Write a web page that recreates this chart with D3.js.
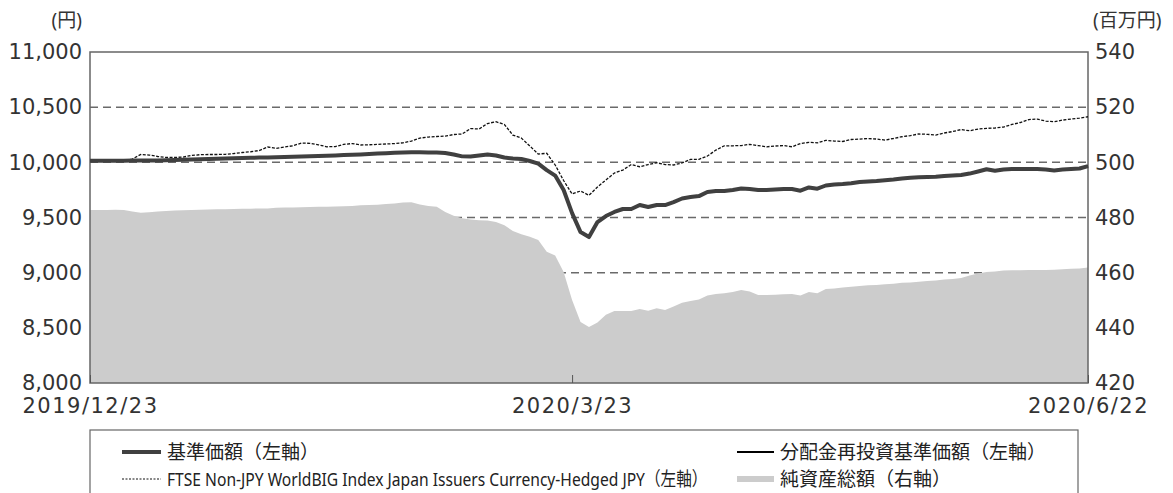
<!DOCTYPE html>
<html>
<head>
<meta charset="utf-8">
<script src="https://cdn.jsdelivr.net/npm/d3@7"></script>
<style>
  body { margin: 0; background: #fff; }
  svg { display: block; font-family: "Noto Sans", "Noto Sans CJK JP", sans-serif; }
  .num { font-family: "DejaVu Sans", "Noto Sans", sans-serif; }
</style>
</head>
<body>
<svg width="1173" height="493"></svg>
<script>
// 営業日（横軸のカテゴリ）
const dates = [
  "2019/12/23","2019/12/24","2019/12/25","2019/12/26","2019/12/27","2019/12/30",
  "2020/1/6","2020/1/7","2020/1/8","2020/1/9","2020/1/10","2020/1/14","2020/1/15","2020/1/16","2020/1/17",
  "2020/1/20","2020/1/21","2020/1/22","2020/1/23","2020/1/24","2020/1/27","2020/1/28","2020/1/29","2020/1/30","2020/1/31",
  "2020/2/3","2020/2/4","2020/2/5","2020/2/6","2020/2/7","2020/2/10","2020/2/12","2020/2/13","2020/2/14",
  "2020/2/17","2020/2/18","2020/2/19","2020/2/20","2020/2/21","2020/2/25","2020/2/26","2020/2/27","2020/2/28",
  "2020/3/2","2020/3/3","2020/3/4","2020/3/5","2020/3/6","2020/3/9","2020/3/10","2020/3/11","2020/3/12","2020/3/13",
  "2020/3/16","2020/3/17","2020/3/18","2020/3/19","2020/3/23","2020/3/24","2020/3/25","2020/3/26","2020/3/27",
  "2020/3/30","2020/3/31","2020/4/1","2020/4/2","2020/4/3","2020/4/6","2020/4/7","2020/4/8","2020/4/9","2020/4/10",
  "2020/4/13","2020/4/14","2020/4/15","2020/4/16","2020/4/17","2020/4/20","2020/4/21","2020/4/22","2020/4/23","2020/4/24",
  "2020/4/27","2020/4/28","2020/4/30","2020/5/1","2020/5/7","2020/5/8","2020/5/11","2020/5/12","2020/5/13","2020/5/14",
  "2020/5/15","2020/5/18","2020/5/19","2020/5/20","2020/5/21","2020/5/22","2020/5/25","2020/5/26","2020/5/27","2020/5/28",
  "2020/5/29","2020/6/1","2020/6/2","2020/6/3","2020/6/4","2020/6/5","2020/6/8","2020/6/9","2020/6/10","2020/6/11",
  "2020/6/12","2020/6/15","2020/6/16","2020/6/17","2020/6/18","2020/6/19","2020/6/22"
];

// 基準価額（左軸, 円）
const nav = [
  10015,10014,10015,10015,10015,10016,10017,10016,10017,10019,
  10021,10023,10025,10028,10030,10032,10034,10036,10039,10041,
  10043,10044,10047,10049,10051,10053,10055,10057,10060,10063,
  10066,10069,10072,10075,10079,10082,10086,10089,10091,10091,
  10090,10089,10084,10071,10054,10053,10062,10071,10062,10044,
  10034,10030,10012,9989,9930,9880,9749,9540,9368,9323,
  9459,9513,9550,9577,9577,9613,9595,9613,9613,9640,
  9672,9685,9694,9731,9740,9740,9749,9763,9758,9749,
  9749,9753,9758,9758,9743,9772,9761,9790,9799,9803,
  9810,9821,9826,9830,9837,9844,9853,9860,9864,9867,
  9869,9876,9880,9885,9898,9917,9937,9924,9935,9939,
  9939,9939,9939,9935,9927,9935,9939,9944,9966
];

// 分配金再投資基準価額（左軸, 円）— 分配なしのため基準価額と同じ
const navReinvested = [
  10015,10014,10015,10015,10015,10016,10017,10016,10017,10019,
  10021,10023,10025,10028,10030,10032,10034,10036,10039,10041,
  10043,10044,10047,10049,10051,10053,10055,10057,10060,10063,
  10066,10069,10072,10075,10079,10082,10086,10089,10091,10091,
  10090,10089,10084,10071,10054,10053,10062,10071,10062,10044,
  10034,10030,10012,9989,9930,9880,9749,9540,9368,9323,
  9459,9513,9550,9577,9577,9613,9595,9613,9613,9640,
  9672,9685,9694,9731,9740,9740,9749,9763,9758,9749,
  9749,9753,9758,9758,9743,9772,9761,9790,9799,9803,
  9810,9821,9826,9830,9837,9844,9853,9860,9864,9867,
  9869,9876,9880,9885,9898,9917,9937,9924,9935,9939,
  9939,9939,9939,9935,9927,9935,9939,9944,9966
];

// FTSE Non-JPY WorldBIG Index Japan Issuers Currency-Hedged JPY（左軸）
const ftse = [
  10015,10016,10016,10016,10018,10030,10071,10066,10053,10044,
  10044,10048,10062,10069,10071,10071,10073,10080,10089,10096,
  10107,10139,10127,10139,10150,10175,10172,10159,10141,10143,
  10163,10170,10157,10159,10163,10166,10170,10177,10193,10220,
  10229,10234,10238,10252,10257,10306,10302,10352,10368,10343,
  10247,10220,10148,10075,10082,9976,9835,9713,9740,9701,
  9776,9840,9903,9930,9980,9960,9980,9996,9980,9976,
  9994,10027,10027,10057,10111,10150,10150,10152,10163,10152,
  10141,10148,10152,10141,10170,10181,10177,10199,10193,10189,
  10207,10211,10216,10211,10202,10216,10232,10243,10257,10254,
  10247,10266,10279,10297,10286,10302,10308,10311,10320,10343,
  10361,10388,10392,10374,10368,10383,10392,10401,10413
];

// 純資産総額（右軸, 百万円）
const netAssets = [
  482.7,482.7,482.7,482.8,482.7,482.2,481.7,481.9,482.2,482.4,
  482.5,482.6,482.7,482.8,482.9,483.0,483.0,483.1,483.2,483.2,
  483.3,483.3,483.5,483.6,483.6,483.7,483.8,483.9,483.9,484.0,
  484.1,484.2,484.4,484.5,484.6,484.9,485.1,485.4,485.5,484.7,
  484.2,483.9,482.0,480.6,479.7,479.3,479.0,478.9,478.4,477.2,
  475.1,473.9,473.0,471.8,467.6,466.2,460.2,450.1,442.1,440.3,
  441.9,444.7,446.1,446.1,446.1,446.8,446.2,447.1,446.5,447.7,
  449.1,449.7,450.3,451.7,452.3,452.5,453.0,453.7,453.2,451.9,
  451.9,452.0,452.2,452.3,451.7,453.0,452.5,454.1,454.3,454.6,
  454.9,455.2,455.4,455.5,455.8,456.0,456.3,456.4,456.7,457.0,
  457.2,457.5,457.7,458.1,459.0,459.7,460.2,460.4,460.8,460.9,
  460.9,461.0,461.0,461.0,461.1,461.2,461.4,461.5,461.9
];

const leftTicks = [8000, 8500, 9000, 9500, 10000, 10500, 11000];
const rightTicks = [420, 440, 460, 480, 500, 520, 540];
const xTicks = ["2019/12/23", "2020/3/23", "2020/6/22"];

const svg = d3.select("svg");
const m = { left: 90, right: 85, top: 52, bottom: 110 };
const W = 1173, H = 493;
const plotR = W - m.right; // 1088
const plotB = H - m.bottom; // 383

const x = d3.scalePoint().domain(dates).range([m.left, plotR]).padding(0);
const yL = d3.scaleLinear().domain([8000, 11000]).range([plotB, m.top]);
const yR = d3.scaleLinear().domain([420, 540]).range([plotB, m.top]);

const data = dates.map((d, i) => ({
  date: d, nav: nav[i], reinv: navReinvested[i], ftse: ftse[i], assets: netAssets[i]
}));

// グリッド（破線）
svg.append("g").selectAll("line")
  .data(leftTicks.filter(t => t > 8000 && t < 11000))
  .join("line")
  .attr("x1", m.left).attr("x2", plotR)
  .attr("y1", d => yL(d)).attr("y2", d => yL(d))
  .attr("stroke", "#6a6a6a").attr("stroke-width", 1.5)
  .attr("stroke-dasharray", "8,5");

// 純資産総額のエリア
const area = d3.area()
  .x(d => x(d.date))
  .y0(yR(420))
  .y1(d => yR(d.assets));

svg.append("path").datum(data)
  .attr("fill", "#cccccc")
  .attr("d", area);

// 枠
svg.append("rect")
  .attr("x", m.left).attr("y", m.top)
  .attr("width", plotR - m.left).attr("height", plotB - m.top)
  .attr("fill", "none").attr("stroke", "#666").attr("stroke-width", 1.5);

// FTSE 指数（点線）
svg.append("path").datum(data)
  .attr("fill", "none").attr("stroke", "#111").attr("stroke-width", 1.3)
  .attr("stroke-dasharray", "3,1.5")
  .attr("d", d3.line().x(d => x(d.date)).y(d => yL(d.ftse)));

// 分配金再投資基準価額
svg.append("path").datum(data)
  .attr("fill", "none").attr("stroke", "#000").attr("stroke-width", 1.5)
  .attr("d", d3.line().x(d => x(d.date)).y(d => yL(d.reinv)));

// 基準価額（太線）
svg.append("path").datum(data)
  .attr("fill", "none").attr("stroke", "#404040").attr("stroke-width", 4)
  .attr("stroke-linejoin", "round")
  .attr("d", d3.line().x(d => x(d.date)).y(d => yL(d.nav)));

// 左軸
const gL = svg.append("g")
  .attr("transform", `translate(${m.left},0)`)
  .call(d3.axisLeft(yL).tickValues(leftTicks).tickSize(0).tickPadding(8).tickFormat(d3.format(",")));
gL.select(".domain").remove();
gL.selectAll("text").attr("class", "num").attr("font-size", 21).attr("fill", "#333")
  .attr("font-family", null);

// 右軸
const gR = svg.append("g")
  .attr("transform", `translate(${plotR},0)`)
  .call(d3.axisRight(yR).tickValues(rightTicks).tickSize(0).tickPadding(7));
gR.select(".domain").remove();
gR.selectAll("text").attr("class", "num").attr("font-size", 21).attr("fill", "#333");

// 横軸
const gB = svg.append("g")
  .attr("transform", `translate(0,${plotB})`)
  .call(d3.axisBottom(x).tickValues(xTicks).tickSize(-8));
gB.select(".domain").remove();
gB.selectAll(".tick line").attr("stroke", "#555");
gB.selectAll("text").attr("class", "num")
  .attr("y", 23).attr("dy", "0.35em")
  .attr("font-size", 21).attr("fill", "#333")
  .style("letter-spacing", "1.5px");

// d3 の axis が g に付ける font-family を外して CSS のフォントを使う
svg.selectAll("g").attr("font-family", null);

// 単位
svg.append("text").attr("x", 82).attr("y", 20).attr("dy", "0.35em")
  .attr("text-anchor", "end").attr("font-size", 19).attr("fill", "#333").text("(円)");
svg.append("text").attr("x", 1093).attr("y", 20).attr("dy", "0.35em")
  .attr("font-size", 19).attr("fill", "#333").text("(百万円)");

// 凡例
const lg = svg.append("g");
lg.append("rect").attr("x", 90).attr("y", 430).attr("width", 988).attr("height", 80)
  .attr("fill", "#fff").attr("stroke", "#666").attr("stroke-width", 1.2);

const row1 = 452, row2 = 479;
lg.append("line").attr("x1", 122).attr("x2", 161).attr("y1", row1).attr("y2", row1)
  .attr("stroke", "#404040").attr("stroke-width", 4);
lg.append("line").attr("x1", 122).attr("x2", 161).attr("y1", row2).attr("y2", row2)
  .attr("stroke", "#111").attr("stroke-width", 1).attr("stroke-dasharray", "2,1.5");
lg.append("line").attr("x1", 737).attr("x2", 774).attr("y1", row1).attr("y2", row1)
  .attr("stroke", "#000").attr("stroke-width", 2);
lg.append("rect").attr("x", 737).attr("y", row2 - 3).attr("width", 37).attr("height", 6)
  .attr("fill", "#cccccc");

const legendText = [
  { x: 167, y: row1, t: "基準価額（左軸）" },
  { x: 167, y: row2, t: "FTSE Non-JPY WorldBIG Index Japan Issuers Currency-Hedged JPY（左軸）", fit: 541 },
  { x: 780, y: row1, t: "分配金再投資基準価額（左軸）" },
  { x: 780, y: row2, t: "純資産総額（右軸）" }
];
lg.selectAll("text.lt").data(legendText).join("text")
  .attr("class", "lt")
  .attr("transform", d => `translate(${d.x},${d.y})`)
  .attr("dy", "0.35em")
  .attr("font-size", 19).attr("fill", "#222")
  .text(d => d.t)
  .each(function (d) {
    // 長い凡例は横方向に縮めて枠内に収める
    if (d.fit) {
      const w = this.getComputedTextLength();
      d3.select(this).attr("transform", `translate(${d.x},${d.y}) scale(${d.fit / w},1)`);
    }
  });
</script>
</body>
</html>
